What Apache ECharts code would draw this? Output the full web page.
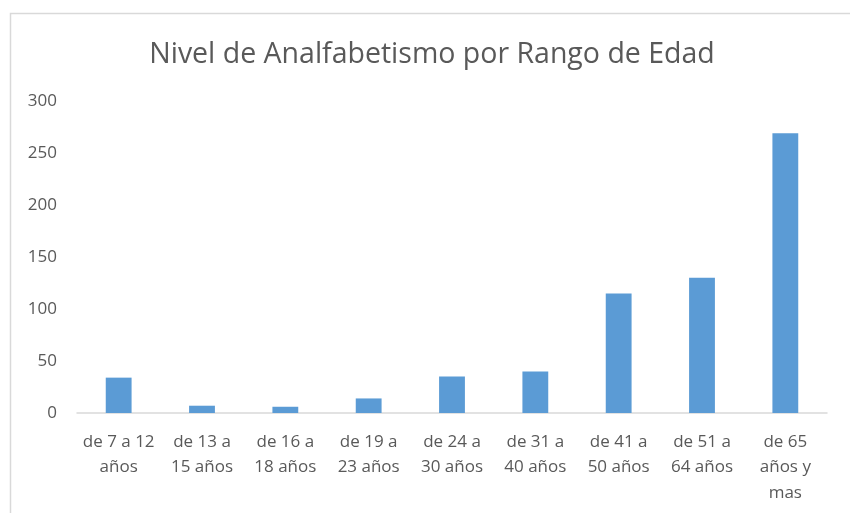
<!DOCTYPE html>
<html><head><meta charset="utf-8">
<script src="https://cdn.jsdelivr.net/npm/echarts@6/dist/echarts.min.js"></script>
<style>html,body{margin:0;padding:0;background:#fff}#c{width:850px;height:513px}</style>
</head><body><div id="c"></div>
<script>
const titleText = 'Nivel de Analfabetismo por Rango de Edad';
const categories = ['de 7 a 12\naños','de 13 a\n15 años','de 16 a\n18 años','de 19 a\n23 años','de 24 a\n30 años','de 31 a\n40 años','de 41 a\n50 años','de 51 a\n64 años','de 65\naños y\nmas'];
const values = [34, 7, 6, 14, 35, 40, 115, 130, 269];
const yTicks = [0, 50, 100, 150, 200, 250, 300];

const chart = echarts.init(document.getElementById('c'), null, {renderer:'canvas'});
chart.setOption({
  animation:false,
  backgroundColor:'#fff',
  title:{text:titleText,left:427,textAlign:'center',top:35,
    textStyle:{fontFamily:'Open Sans',fontSize:28.5,fontWeight:'normal',color:'#595959'}},
  graphic:[{type:'rect',shape:{x:10.5,y:13.5,width:900,height:600},style:{fill:'none',stroke:'#d9d9d9',lineWidth:1.5},silent:true}],
  grid:{left:77,right:23,top:101,bottom:100},
  xAxis:{type:'category',data:categories,
    axisLine:{lineStyle:{color:'#d9d9d9',width:1.5}},axisTick:{show:false},
    axisLabel:{interval:0,color:'#595959',fontFamily:'Open Sans',fontSize:17,lineHeight:25.5,margin:16}},
  yAxis:{type:'value',min:yTicks[0],max:yTicks[yTicks.length-1],interval:50,
    axisLine:{show:false},axisTick:{show:false},splitLine:{show:false},
    axisLabel:{color:'#595959',fontFamily:'Open Sans',fontSize:17,margin:20}},
  series:[{type:'bar',data:values,barWidth:'31%',itemStyle:{color:'#5b9bd5'}}]
});
</script></body></html>
